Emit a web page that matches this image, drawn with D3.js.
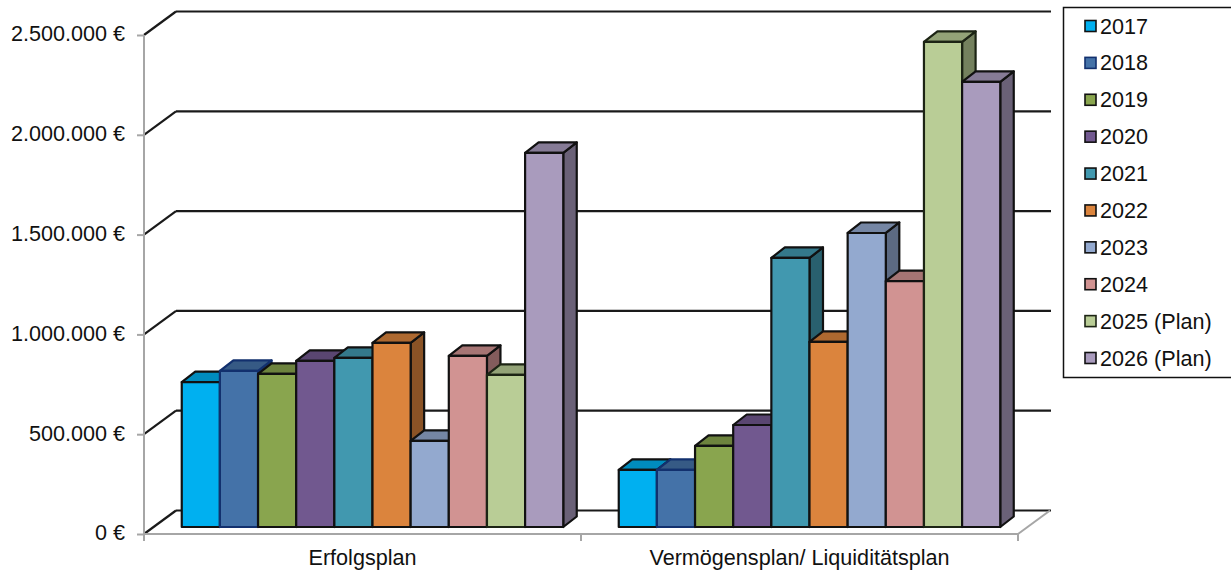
<!DOCTYPE html>
<html><head><meta charset="utf-8">
<script src="https://cdn.jsdelivr.net/npm/d3@7"></script>
<style>html,body{margin:0;padding:0;background:#fff}svg{display:block}text{font-family:"Liberation Sans",Arial,sans-serif;fill:#111}</style>
</head><body><svg id="c" width="1231" height="572"></svg>
<script>
const categories = ["Erfolgsplan","Vermögensplan/ Liquiditätsplan"];
const years = ["2017","2018","2019","2020","2021","2022","2023","2024","2025 (Plan)","2026 (Plan)"];
const erfolgsplan = [726000,782000,767000,832000,847000,922000,431000,857000,762000,1874000];
const vermoegensplan = [286000,286000,406000,511000,1348000,927000,1473000,1232000,2430000,2230000];
const yTicks = [0,500000,1000000,1500000,2000000,2500000];
const colors = ["#00B0F0","#4472A8","#89A54E","#71588F","#4198AF","#DB843D","#93A9CF","#D19392","#B9CD96","#A99BBD"];
const edges = ["#111","#12306e","#111","#111","#111","#111","#111","#111","#1c2414","#111"];
const seriesByCat = [erfolgsplan, vermoegensplan];

const svg = d3.select("#c");
const plot = {l:144, r:1018, t:35, b:534};
const wall = {dx:32, dy:-23.5};
const depth = {dx:13.5, dy:-10.5, baseLift:7};
const FS = 21.6;
const y = d3.scaleLinear().domain([0,2500000]).range([plot.b,plot.t]);
const x0 = d3.scaleBand().domain(categories).range([plot.l,plot.r]);
const barW = 38.15;
const x1 = d3.scaleBand().domain(years).range([0,barW*years.length]);
const groupPad = (x0.bandwidth()-barW*years.length)/2 + 10;

const grey = "#a6a6a6";
yTicks.forEach(t=>{
  svg.append("line").attr("x1",plot.l+wall.dx).attr("x2",plot.r+wall.dx+1)
    .attr("y1",y(t)+wall.dy).attr("y2",y(t)+wall.dy).attr("stroke","#1a1a1a").attr("stroke-width",2.2);
  svg.append("line").attr("x1",plot.l).attr("x2",plot.l+wall.dx)
    .attr("y1",y(t)).attr("y2",y(t)+wall.dy).attr("stroke","#1a1a1a").attr("stroke-width",2.2);
});
svg.append("path").attr("fill","none").attr("stroke",grey).attr("stroke-width",2)
  .attr("d",`M${plot.r},${plot.b}L${plot.r+wall.dx},${plot.b+wall.dy}`);
const yAxis = d3.axisLeft(y).tickValues(yTicks).tickSize(7).tickPadding(12)
  .tickFormat(d=>d3.format(",")(d).replace(/,/g,".")+" €");
const gy = svg.append("g").attr("transform",`translate(${plot.l},0)`).call(yAxis);
gy.selectAll("path").attr("stroke",grey).attr("stroke-width",2).attr("d",`M0,${plot.t}V${plot.b}`);
gy.selectAll("line").attr("stroke",grey).attr("stroke-width",2);
gy.selectAll("text").attr("font-size",FS).attr("dy","0.27em").attr("fill","#111");
const xAxis = d3.axisBottom(x0).tickSize(0).tickPadding(16);
const gx = svg.append("g").attr("transform",`translate(0,${plot.b})`).call(xAxis);
gx.select("path").attr("stroke",grey).attr("stroke-width",2).attr("d",`M${plot.l},0H${plot.r}`);
gx.selectAll("text").attr("font-size",FS).attr("dy","0.71em").attr("fill","#111");
[...x0.domain().map(c=>x0(c)),plot.r].forEach(v=>{
  gx.append("line").attr("x1",v).attr("x2",v).attr("y1",0).attr("y2",7).attr("stroke",grey).attr("stroke-width",2);
});
const L = depth.baseLift;
categories.forEach((c,ci)=>{
  const g = svg.append("g");
  const left = x0(c)+groupPad;
  years.forEach((yr,i)=>{
    const v = seriesByCat[ci][i];
    const xa = left+x1(yr), xb = xa+x1.bandwidth();
    const yt = y(v)-L, yb = y(0)-L;
    const col = d3.color(colors[i]);
    const e = edges[i];
    const bg = g.append("g").attr("stroke",e).attr("stroke-width",2.2).attr("stroke-linejoin","round");
    bg.append("path").attr("fill",col.darker(1.3).formatHex())
      .attr("d",`M${xb},${yt}l${depth.dx},${depth.dy}V${yb+depth.dy}L${xb},${yb}Z`);
    bg.append("path").attr("fill",col.darker(0.65).formatHex())
      .attr("d",`M${xa},${yt}l${depth.dx},${depth.dy}H${xb+depth.dx}L${xb},${yt}Z`);
    bg.append("rect").attr("x",xa).attr("y",yt).attr("width",xb-xa).attr("height",yb-yt).attr("fill",colors[i]);
  });
});
const lg = svg.append("g");
lg.append("rect").attr("x",1063.5).attr("y",7.5).attr("width",180).attr("height",370)
  .attr("fill","#fff").attr("stroke","#111").attr("stroke-width",1.5);
const ly = d3.scalePoint().domain(years).range([26,358]);
years.forEach((yr,i)=>{
  lg.append("rect").attr("x",1085).attr("y",ly(yr)-5.5).attr("width",11).attr("height",11)
    .attr("fill",colors[i]).attr("stroke",edges[i]).attr("stroke-width",1.6);
  lg.append("text").attr("x",1100).attr("y",ly(yr)+7.5).attr("font-size",FS).text(yr);
});
</script></body></html>
